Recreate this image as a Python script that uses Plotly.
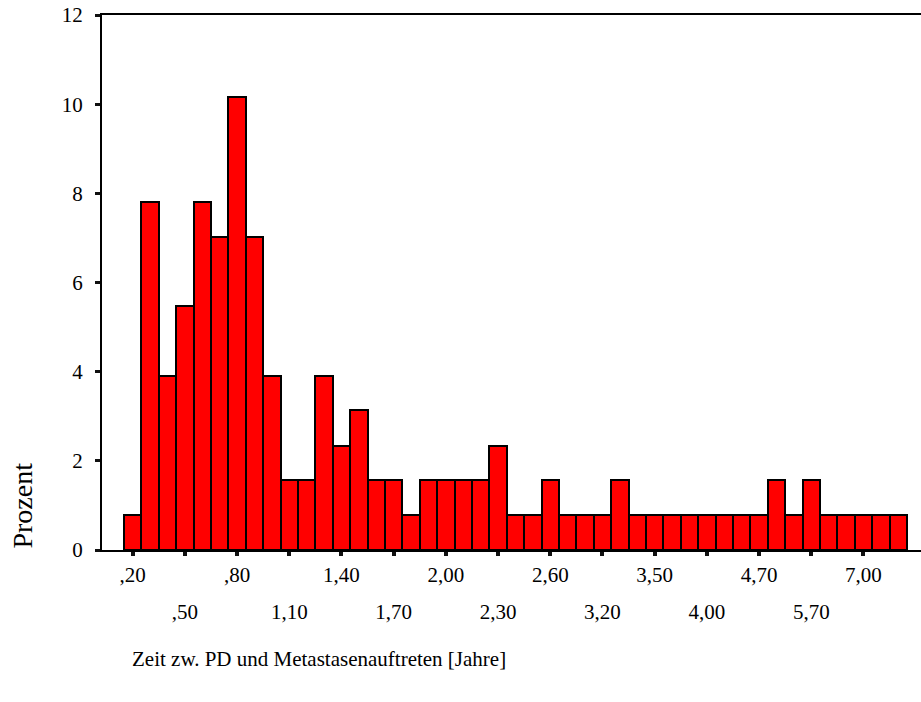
import plotly.graph_objects as go

# Time between PD and metastasis onset, in years (category labels)
categories = [",20", ",30", ",40", ",50", ",60", ",70", ",80", ",90", "1,00",
              "1,10", "1,20", "1,30", "1,40", "1,50", "1,60", "1,70", "1,80",
              "1,90", "2,00", "2,10", "2,20", "2,30", "2,40", "2,50", "2,60",
              "2,80", "3,00", "3,20", "3,30", "3,40", "3,50", "3,70", "3,80",
              "4,00", "4,20", "4,50", "4,70", "5,00", "5,30", "5,70", "6,00",
              "6,50", "7,00", "7,50", "8,00"]

# Share of cases per category, in percent
percent = [0.78, 7.81, 3.91, 5.47, 7.81, 7.03, 10.16, 7.03, 3.91, 1.56,
           1.56, 3.91, 2.34, 3.13, 1.56, 1.56, 0.78, 1.56, 1.56, 1.56,
           1.56, 2.34, 0.78, 0.78, 1.56, 0.78, 0.78, 0.78, 1.56, 0.78,
           0.78, 0.78, 0.78, 0.78, 0.78, 0.78, 0.78, 1.56, 0.78, 1.56,
           0.78, 0.78, 0.78, 0.78, 0.78]

# Labelled ticks, split over two staggered rows
ticks_row1 = [",20", ",80", "1,40", "2,00", "2,60", "3,50", "4,70", "7,00"]
ticks_row2 = [",50", "1,10", "1,70", "2,30", "3,20", "4,00", "5,70"]
all_ticks = [c for c in categories if c in ticks_row1 or c in ticks_row2]

y_ticks = [0, 2, 4, 6, 8, 10, 12]

FONT = "Liberation Serif"
x_range = [-1.764, 45.305]

fig = go.Figure()
fig.add_trace(go.Bar(
    x=categories, y=percent,
    marker=dict(color="#FF0000", line=dict(color="#000000", width=2)),
    showlegend=False, hoverinfo="x+y",
))
# transparent companion trace so the second label row axis gets drawn
fig.add_trace(go.Scatter(
    x=categories, y=percent, xaxis="x2", mode="markers",
    marker=dict(opacity=0), showlegend=False, hoverinfo="skip",
))

fig.update_layout(
    width=921, height=702,
    margin=dict(l=102, r=0, t=15, b=151.5),
    paper_bgcolor="white", plot_bgcolor="white",
    bargap=0,
    font=dict(family=FONT, size=21, color="black"),
    xaxis=dict(
        type="category", categoryorder="array", categoryarray=categories,
        range=x_range,
        tickmode="array", tickvals=all_ticks,
        ticktext=[c if c in ticks_row1 else "" for c in all_ticks],
        ticks="outside", ticklen=4, tickwidth=4, tickcolor="#111111",
        ticklabelstandoff=1,
        showline=True, linecolor="black", linewidth=2, mirror=True,
        showgrid=False, zeroline=False,
        tickfont=dict(family=FONT, size=21),
    ),
    xaxis2=dict(
        type="category", categoryorder="array", categoryarray=categories,
        range=x_range, overlaying="x", anchor="y", side="bottom",
        tickmode="array", tickvals=ticks_row2, ticktext=ticks_row2,
        ticks="", ticklabelstandoff=47,
        showline=False, showgrid=False, zeroline=False,
        tickfont=dict(family=FONT, size=21),
    ),
    yaxis=dict(
        range=[0, 12], tickmode="array", tickvals=y_ticks,
        ticks="outside", ticklen=5, tickwidth=3, tickcolor="#111111",
        ticklabelstandoff=8,
        showline=True, linecolor="black", linewidth=2,
        showgrid=False, zeroline=False,
        tickfont=dict(family=FONT, size=21),
    ),
    annotations=[
        dict(text="Prozent", xref="paper", yref="paper",
             x=-0.0965, y=0.083, xanchor="center", yanchor="middle",
             textangle=-90, showarrow=False,
             font=dict(family=FONT, size=28)),
        dict(text="Zeit zw. PD und Metastasenauftreten [Jahre]",
             xref="paper", yref="paper", x=0.0342, y=-0.2045,
             xanchor="left", yanchor="middle", showarrow=False,
             font=dict(family=FONT, size=21)),
    ],
)

fig.write_html("out.html")
